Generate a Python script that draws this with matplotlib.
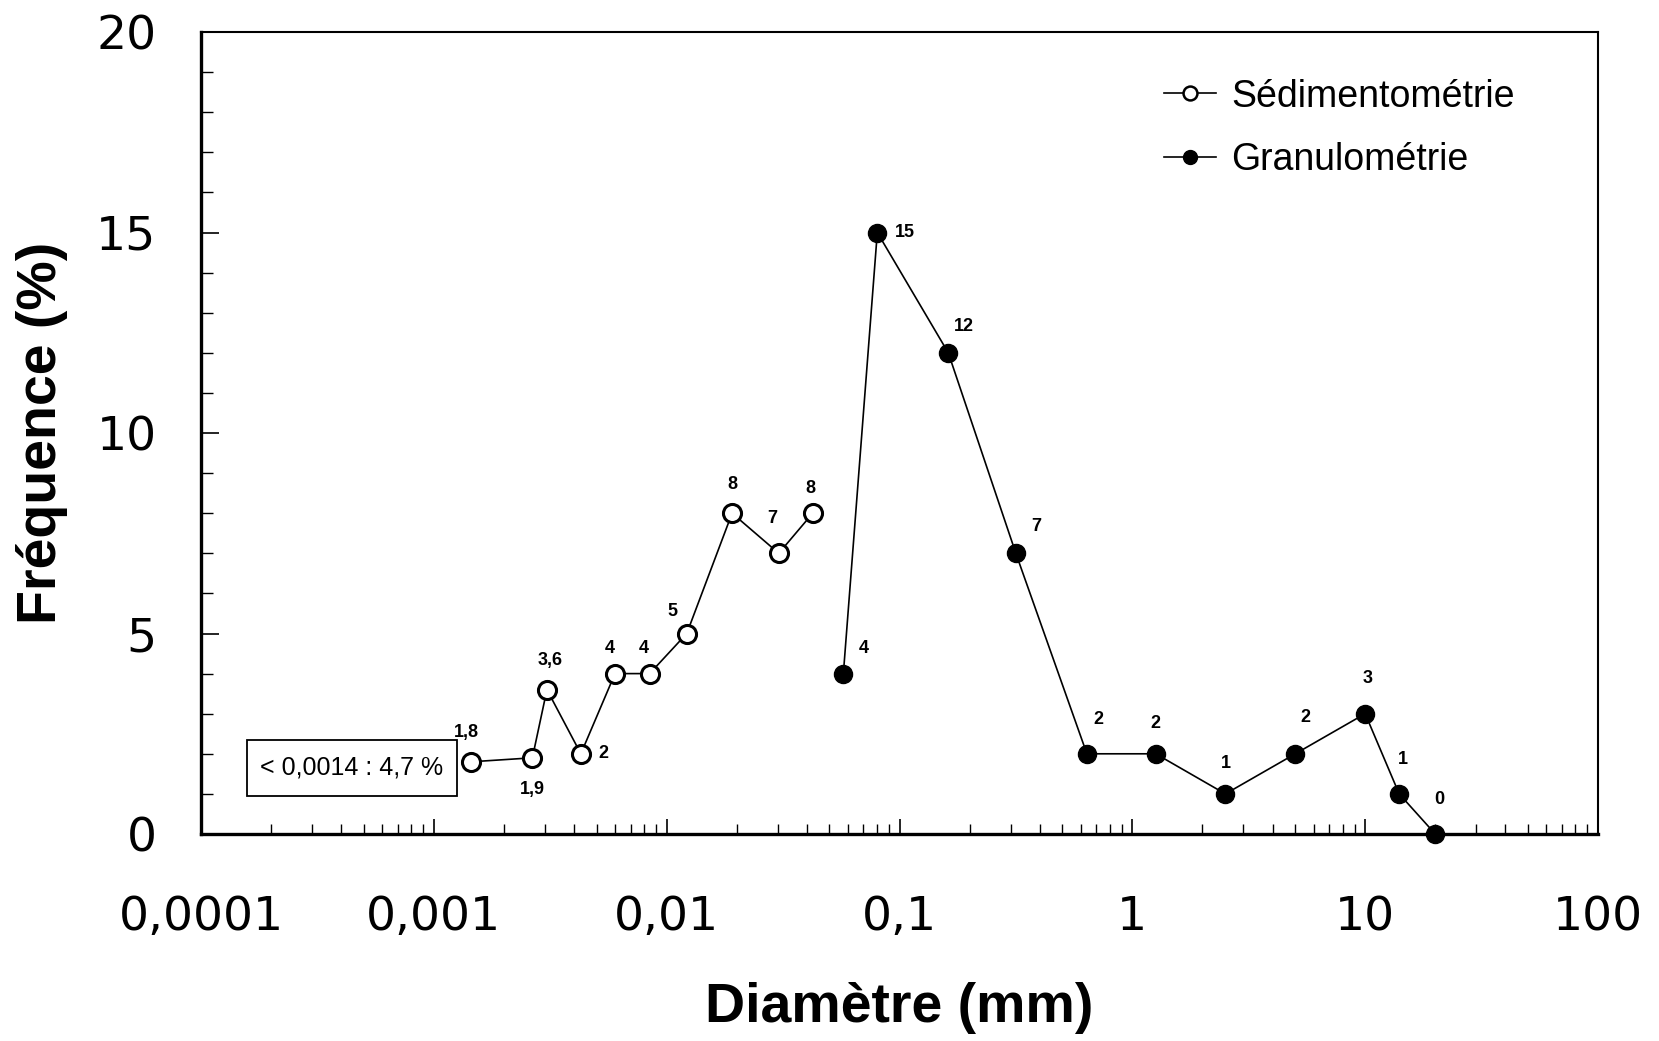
import matplotlib
matplotlib.use('Agg')
import matplotlib.pyplot as plt
from matplotlib.ticker import MultipleLocator, LogLocator, NullFormatter
from matplotlib.patches import Rectangle
from matplotlib.lines import Line2D

# Sedimentometry (hydrometer) data
sed_diam = [0.00144, 0.00265, 0.00306, 0.00428, 0.0060, 0.00845, 0.0122, 0.0191, 0.0303, 0.0424]
sed_freq = [1.8, 1.9, 3.6, 2, 4, 4, 5, 8, 7, 8]
sed_labels = ['1,8', '1,9', '3,6', '2', '4', '4', '5', '8', '7', '8']

# Sieve analysis data
gran_diam = [0.0574, 0.0803, 0.162, 0.316, 0.638, 1.26, 2.51, 5.01, 10.0, 14.0, 20.0]
gran_freq = [4, 15, 12, 7, 2, 2, 1, 2, 3, 1, 0]
gran_labels = ['4', '15', '12', '7', '2', '2', '1', '2', '3', '1', '0']

x_ticks = [0.0001, 0.001, 0.01, 0.1, 1, 10, 100]
x_ticklabels = ['0,0001', '0,001', '0,01', '0,1', '1', '10', '100']
y_ticks = [0, 5, 10, 15, 20]

# label offsets (points) relative to each marker
sed_off = [(-3, 21), (0, -23), (2, 21), (16, 0), (-4, 18), (-4, 18), (-10, 16), (0, 21), (-5, 25), (-2, 18)]
gran_off = [(15, 18), (20, 0), (11, 19), (15, 19), (8, 25), (0, 22), (0, 22), (7, 26), (2, 25), (3, 25), (3, 25)]

narrow = ['Liberation Sans Narrow', 'Liberation Sans', 'DejaVu Sans']

fig = plt.figure(figsize=(16.59, 10.41), dpi=100)
ax = fig.add_axes([201 / 1659, 1 - 834 / 1041, 1397 / 1659, 802 / 1041])

ax.plot(sed_diam, sed_freq, color='black', lw=1.2, marker='o', ms=13,
        mfc='white', mec='black', mew=2.2, zorder=3)
ax.plot(gran_diam, gran_freq, color='black', lw=1.2, marker='o', ms=13,
        mfc='black', mec='black', zorder=3, clip_on=False)

for x, y, t, o in zip(sed_diam, sed_freq, sed_labels, sed_off):
    ax.annotate(t, (x, y), xytext=o, textcoords='offset points', ha='center', va='center',
                fontsize=13, fontweight='bold', family=narrow)
for x, y, t, o in zip(gran_diam, gran_freq, gran_labels, gran_off):
    ax.annotate(t, (x, y), xytext=o, textcoords='offset points', ha='center', va='center',
                fontsize=13, fontweight='bold', family=narrow)

ax.set_xscale('log')
ax.set_xlim(0.0001, 100)
ax.set_ylim(0, 20)
ax.set_xticks(x_ticks, x_ticklabels)
ax.xaxis.set_minor_locator(LogLocator(base=10, subs=range(2, 10), numticks=100))
ax.xaxis.set_minor_formatter(NullFormatter())
ax.set_yticks(y_ticks)
ax.yaxis.set_minor_locator(MultipleLocator(1))

ax.tick_params(axis='both', which='both', direction='in')
ax.tick_params(axis='x', which='major', length=11, width=1.2, pad=44, labelsize=34)
ax.tick_params(axis='x', which='minor', length=7, width=1.0)
ax.tick_params(axis='y', which='major', length=13, width=1.2, pad=32, labelsize=34)
ax.tick_params(axis='y', which='minor', length=8.5, width=1.0)
for lab in ax.get_xticklabels() + ax.get_yticklabels():
    lab.set_family('DejaVu Sans')

for s in ['left', 'bottom']:
    ax.spines[s].set_linewidth(2.4)
for s in ['top', 'right']:
    ax.spines[s].set_linewidth(1.5)

ax.set_xlabel('Diamètre (mm)', fontsize=40, fontweight='bold', family='Liberation Sans',
              va='center')
ax.xaxis.set_label_coords(0.5, -0.217)
ax.set_ylabel('Fréquence (%)', fontsize=40, fontweight='bold', family='Liberation Sans',
              va='center')
ax.yaxis.set_label_coords(-0.114, 0.5)

# box for the fine fraction
ax.add_patch(Rectangle((0.0329, 0.0474), 0.150, 0.0698, transform=ax.transAxes,
                       fill=False, ec='black', lw=1.3, zorder=4))
ax.text(0.0329 + 0.075, 0.0474 + 0.0349, '< 0,0014 : 4,7 %', transform=ax.transAxes,
        ha='center', va='center', fontsize=18, family=narrow)

handles = [
    Line2D([], [], color='black', lw=1.2, marker='o', ms=10, mfc='white', mec='black', mew=1.8),
    Line2D([], [], color='black', lw=1.2, marker='o', ms=10, mfc='black', mec='black'),
]
ax.legend(handles, ['Sédimentométrie', 'Granulométrie'], loc='upper left',
          bbox_to_anchor=(0.689, 0.942), frameon=False, borderaxespad=0, borderpad=0,
          handlelength=1.4, handletextpad=0.4, labelspacing=0.73,
          prop={'family': 'Liberation Sans', 'size': 27})

fig.savefig('out.png', dpi=100)
